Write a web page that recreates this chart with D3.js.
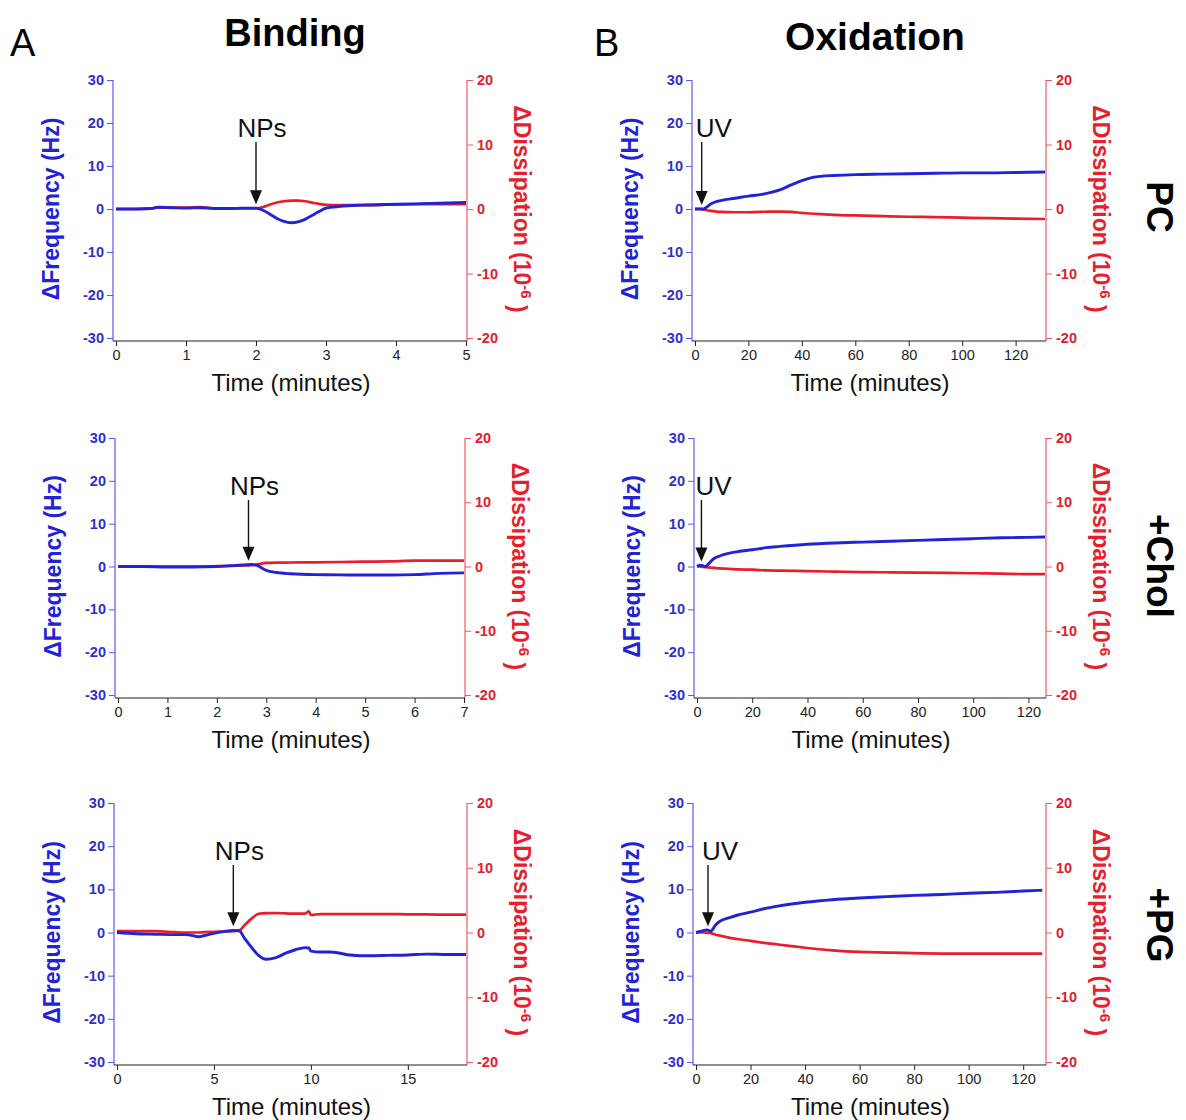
<!DOCTYPE html>
<html>
<head>
<meta charset="utf-8">
<script src="https://cdn.jsdelivr.net/npm/d3@7"></script>
<style>
  body { margin: 0; background: #fff; }
  svg { font-family: Arial, "Liberation Sans", sans-serif; }
</style>
</head>
<body>
<svg id="fig" width="1186" height="1120"></svg>
<script>
// ---- data (time in minutes, frequency in Hz, dissipation in 1e-6) ----

// A: binding, PC
var bindPcTime = [0, 0.3, 0.5, 0.6, 0.8, 1.0, 1.2, 1.4, 1.6, 1.8, 2.0, 2.1, 2.2, 2.3, 2.4, 2.5, 2.6, 2.7, 2.8, 2.9, 3.0, 3.2, 3.5, 4.0, 4.5, 5.0];
var bindPcFreq = [0, 0, 0.1, 0.4, 0.3, 0.2, 0.3, 0.1, 0.1, 0.2, 0.2, -0.3, -1.2, -2.2, -2.9, -3.2, -3.0, -2.4, -1.5, -0.6, 0.2, 0.6, 0.9, 1.1, 1.3, 1.5];
var bindPcDiss = [0, 0, 0.05, 0.25, 0.2, 0.2, 0.3, 0.1, 0.1, 0.1, 0.1, 0.3, 0.7, 1.0, 1.2, 1.3, 1.3, 1.2, 1.0, 0.8, 0.65, 0.6, 0.6, 0.7, 0.75, 0.75];

// A: binding, +Chol
var bindCholTime = [0, 0.5, 1, 1.5, 2, 2.3, 2.5, 2.7, 2.8, 2.9, 3.0, 3.2, 3.5, 4, 4.5, 5, 5.5, 6, 6.5, 7];
var bindCholFreq = [0, 0, -0.1, -0.1, 0, 0.2, 0.35, 0.45, 0.3, -0.3, -0.9, -1.4, -1.7, -1.9, -1.95, -2.0, -2.0, -1.9, -1.6, -1.5];
var bindCholDiss = [0, 0, 0, 0, 0.05, 0.1, 0.15, 0.2, 0.3, 0.45, 0.55, 0.6, 0.62, 0.65, 0.7, 0.75, 0.8, 0.9, 0.9, 0.9];

// A: binding, +PG
var bindPgTime = [0, 1, 2, 3, 3.5, 4, 4.2, 4.5, 5, 5.5, 6, 6.3, 6.6, 7.0, 7.3, 7.7, 8.2, 8.7, 9.2, 9.7, 9.9, 10.0, 10.5, 11, 11.5, 12, 13, 14, 15, 16, 17, 18];
var bindPgFreq = [0, -0.3, -0.4, -0.5, -0.5, -0.8, -1.0, -0.7, -0.2, 0.2, 0.5, 0.4, -1.5, -3.8, -5.3, -6.2, -5.8, -4.8, -4.0, -3.5, -3.6, -4.3, -4.5, -4.5, -4.8, -5.2, -5.4, -5.3, -5.2, -5.0, -5.1, -5.1];
var bindPgDiss = [0.2, 0.2, 0.2, 0.05, 0, 0, 0, 0.05, 0.1, 0.15, 0.2, 0.3, 1.2, 2.3, 2.9, 3.0, 3.0, 2.95, 2.9, 2.9, 3.25, 2.7, 2.85, 2.85, 2.85, 2.85, 2.85, 2.85, 2.8, 2.8, 2.75, 2.75];

// B: oxidation, PC
var oxPcTime = [0, 2, 3, 4, 6, 8, 10, 15, 20, 25, 28, 32, 36, 40, 43, 47, 52, 60, 70, 80, 90, 100, 110, 120, 131];
var oxPcFreq = [0, 0, 0, 0.3, 1.2, 1.7, 2.0, 2.5, 3.0, 3.4, 3.8, 4.5, 5.6, 6.6, 7.2, 7.6, 7.8, 8.0, 8.1, 8.2, 8.3, 8.4, 8.4, 8.5, 8.6];
var oxPcDiss = [0, 0, -0.05, -0.15, -0.3, -0.4, -0.45, -0.5, -0.5, -0.45, -0.4, -0.4, -0.45, -0.6, -0.7, -0.8, -0.9, -1.0, -1.1, -1.2, -1.25, -1.35, -1.4, -1.5, -1.55];

// B: oxidation, +Chol
var oxCholTime = [0, 1, 2, 3, 4, 6, 8, 11, 15, 20, 25, 30, 40, 50, 60, 70, 80, 90, 100, 110, 120, 126];
var oxCholFreq = [0, 0.3, 0.2, 0, 0.5, 1.8, 2.4, 3.0, 3.5, 3.9, 4.4, 4.7, 5.2, 5.5, 5.7, 5.9, 6.1, 6.3, 6.5, 6.7, 6.8, 6.9];
var oxCholDiss = [0, 0, -0.05, -0.1, -0.15, -0.2, -0.3, -0.35, -0.45, -0.5, -0.6, -0.65, -0.73, -0.8, -0.88, -0.9, -0.95, -1.0, -1.05, -1.1, -1.2, -1.2];

// B: oxidation, +PG
var oxPgTime = [0, 2, 3, 4, 5.5, 6.2, 7, 9, 12, 15, 20, 25, 30, 35, 40, 50, 60, 70, 80, 90, 100, 110, 120, 127];
var oxPgFreq = [0, 0.3, 0.5, 0.6, 0.3, 0.8, 1.6, 2.7, 3.4, 4.0, 4.7, 5.5, 6.1, 6.6, 7.0, 7.6, 8.0, 8.3, 8.6, 8.8, 9.1, 9.3, 9.6, 9.8];
var oxPgDiss = [0, 0, 0, -0.05, -0.1, -0.2, -0.3, -0.5, -0.8, -1.0, -1.3, -1.6, -1.85, -2.1, -2.35, -2.75, -3.0, -3.1, -3.2, -3.25, -3.25, -3.25, -3.25, -3.25];

// axis ticks and labels
var freqTicks = [-30, -20, -10, 0, 10, 20, 30];
var dissTicks = [-20, -10, 0, 10, 20];
var bindPcTicks = [0, 1, 2, 3, 4, 5];
var bindCholTicks = [0, 1, 2, 3, 4, 5, 6, 7];
var bindPgTicks = [0, 5, 10, 15];
var oxTicks = [0, 20, 40, 60, 80, 100, 120];
var columnTitles = ["Binding", "Oxidation"];
var panelLetters = ["A", "B"];
var rowLabels = ["PC", "+Chol", "+PG"];
var eventLabels = ["NPs", "UV"];

// ---- layout ----
var BLUE = "#2222d6", RED = "#e81e2c";
var BLUE_AX = "#5b5bf0", RED_AX = "#f05a62";
var svg = d3.select("#fig");
var hy = function(d) { return String(d); };   // plain hyphen, as in the original

var panels = [
    { t: bindPcTime, f: bindPcFreq, d: bindPcDiss, xmax: 5, ticks: bindPcTicks, x0: 116, x1: 466, top: 80, bot: 338, col: 0, ev: 2.0 },
    { t: bindCholTime, f: bindCholFreq, d: bindCholDiss, xmax: 7, ticks: bindCholTicks, x0: 118, x1: 464, top: 438, bot: 695, col: 0, ev: 2.64 },
    { t: bindPgTime, f: bindPgFreq, d: bindPgDiss, xmax: 18, ticks: bindPgTicks, x0: 117, x1: 466, top: 803, bot: 1062, col: 0, ev: 6.0 },
    { t: oxPcTime, f: oxPcFreq, d: oxPcDiss, xmax: 131, ticks: oxTicks, x0: 695, x1: 1045, top: 80, bot: 338, col: 1, ev: 2.5 },
    { t: oxCholTime, f: oxCholFreq, d: oxCholDiss, xmax: 126, ticks: oxTicks, x0: 697, x1: 1045, top: 438, bot: 695, col: 1, ev: 1.6 },
    { t: oxPgTime, f: oxPgFreq, d: oxPgDiss, xmax: 128, ticks: oxTicks, x0: 696, x1: 1045, top: 803, bot: 1062, col: 1, ev: 4.4 }
];

function drawPanel(p) {
    var x = d3.scaleLinear().domain([0, p.xmax]).range([p.x0, p.x1]);
    var yF = d3.scaleLinear().domain([-30, 30]).range([p.bot, p.top]);
    var yD = d3.scaleLinear().domain([-20, 20]).range([p.bot, p.top]);
    var g = svg.append("g");
    var lx = p.x0 - 3, rx = p.x1 + 1, by = p.bot + 3;

    // left axis (frequency)
    var la = g.append("g").attr("transform", "translate(" + lx + ",0)")
        .call(d3.axisLeft(yF).tickValues(freqTicks).tickFormat(hy).tickSize(6).tickSizeOuter(0));
    la.select(".domain").remove();
    la.selectAll("line").attr("stroke", BLUE_AX);
    la.selectAll("text").attr("fill", "#2f2fd0").style("font-size", "14.5px").style("font-weight", "bold").attr("x", -9);
    g.append("line").attr("x1", lx).attr("x2", lx).attr("y1", p.top).attr("y2", by).attr("stroke", BLUE_AX).attr("stroke-width", 1.2);

    // right axis (dissipation)
    var ra = g.append("g").attr("transform", "translate(" + rx + ",0)")
        .call(d3.axisRight(yD).tickValues(dissTicks).tickFormat(hy).tickSize(6).tickSizeOuter(0));
    ra.select(".domain").remove();
    ra.selectAll("line").attr("stroke", RED_AX);
    ra.selectAll("text").attr("fill", "#e0202e").style("font-size", "14.5px").style("font-weight", "bold").attr("x", 10);
    g.append("line").attr("x1", rx).attr("x2", rx).attr("y1", p.top).attr("y2", by).attr("stroke", RED_AX).attr("stroke-width", 1.2);

    // bottom axis (time)
    var ba = g.append("g").attr("transform", "translate(0," + by + ")")
        .call(d3.axisBottom(x).tickValues(p.ticks).tickFormat(d3.format("d")).tickSize(5).tickSizeOuter(0));
    ba.select(".domain").remove();
    ba.selectAll("line").attr("stroke", "#222");
    ba.selectAll("text").attr("fill", "#222").style("font-size", "14.5px").attr("y", 9);
    g.append("line").attr("x1", lx).attr("x2", rx).attr("y1", by).attr("y2", by).attr("stroke", "#222").attr("stroke-width", 1.2);

    g.append("text").attr("x", (p.x0 + p.x1) / 2).attr("y", p.bot + 53)
        .attr("text-anchor", "middle").style("font-size", "24px").attr("fill", "#111")
        .text("Time (minutes)");

    // axis titles
    var cy = (p.top + p.bot) / 2;
    g.append("text").attr("transform", "translate(" + (lx - 62) + "," + cy + ") rotate(-90)")
        .attr("text-anchor", "middle").attr("dy", "0.35em")
        .style("font-size", "23px").style("font-weight", "bold").attr("fill", BLUE)
        .text("\u0394Frequency (Hz)");
    var rt = g.append("text").attr("transform", "translate(" + (rx + 55) + "," + cy + ") rotate(90)")
        .attr("text-anchor", "middle").attr("dy", "0.35em")
        .style("font-size", "23px").style("font-weight", "bold").attr("fill", RED);
    rt.append("tspan").text("\u0394Dissipation (10");
    rt.append("tspan").attr("dy", "-0.5em").style("font-size", "15px").text("-6");
    rt.append("tspan").attr("dy", "0.5em").text(" )");

    // traces
    var pts = p.t.map(function(t, i) { return [t, p.f[i], p.d[i]]; });
    var dissLine = d3.line().x(function(d) { return x(d[0]); }).y(function(d) { return yD(d[2]); }).curve(d3.curveMonotoneX);
    var freqLine = d3.line().x(function(d) { return x(d[0]); }).y(function(d) { return yF(d[1]); }).curve(d3.curveMonotoneX);
    g.append("path").attr("d", dissLine(pts)).attr("fill", "none").attr("stroke", RED).attr("stroke-width", 2.7);
    g.append("path").attr("d", freqLine(pts)).attr("fill", "none").attr("stroke", BLUE).attr("stroke-width", 2.9);

    // event arrow
    var i = d3.bisectLeft(p.t, p.ev);
    var i0 = Math.max(i - 1, 0), i1 = Math.min(i, p.t.length - 1);
    var fv = p.t[i1] === p.t[i0] ? p.f[i0] : p.f[i0] + (p.f[i1] - p.f[i0]) * (p.ev - p.t[i0]) / (p.t[i1] - p.t[i0]);
    var ax = x(p.ev), tipY = yF(fv) - 4, topY = p.top + 62;
    g.append("line").attr("x1", ax).attr("x2", ax).attr("y1", topY).attr("y2", tipY - 12)
        .attr("stroke", "#111").attr("stroke-width", 1.4);
    g.append("path").attr("d", "M" + ax + "," + tipY + " L" + (ax - 6) + "," + (tipY - 14) + " L" + (ax + 6) + "," + (tipY - 14) + " Z")
        .attr("fill", "#111");
    if (p.col === 0) {
        g.append("text").attr("x", ax + 6).attr("y", p.top + 57).attr("text-anchor", "middle")
            .style("font-size", "26px").attr("fill", "#111").text(eventLabels[0]);
    } else {
        g.append("text").attr("x", ax - 6).attr("y", p.top + 57).attr("text-anchor", "start")
            .style("font-size", "26px").attr("fill", "#111").text(eventLabels[1]);
    }
}

panels.forEach(drawPanel);

// column titles and panel letters
svg.append("text").attr("x", 295).attr("y", 46).attr("text-anchor", "middle")
    .style("font-size", "38px").style("font-weight", "bold").text(columnTitles[0]);
svg.append("text").attr("x", 875).attr("y", 50).attr("text-anchor", "middle")
    .style("font-size", "39px").style("font-weight", "bold").text(columnTitles[1]);
svg.append("text").attr("x", 10).attr("y", 56).style("font-size", "38px").text(panelLetters[0]);
svg.append("text").attr("x", 594).attr("y", 56).style("font-size", "38px").text(panelLetters[1]);

// row labels on the right
var rowY = [207, 566, 925];
rowLabels.forEach(function(lab, k) {
    svg.append("text").attr("transform", "translate(1160," + rowY[k] + ") rotate(90)")
        .attr("text-anchor", "middle").attr("dy", "0.35em")
        .style("font-size", "37px").style("font-weight", "bold").text(lab);
});
</script>
</body>
</html>
